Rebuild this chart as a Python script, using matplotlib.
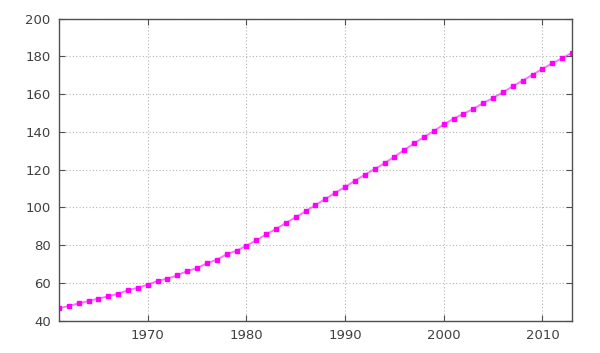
import numpy as np
import matplotlib
matplotlib.use("Agg")
import matplotlib.pyplot as plt

years = np.arange(1961, 2014)
population = [46.6, 47.8, 49.2, 50.4, 51.7, 52.9, 54.3, 56.1, 57.5, 59.1,
              61.1, 62.3, 64.1, 66.3, 67.9, 70.4, 72.3, 75.2, 77.1, 79.7,
              82.6, 85.7, 88.6, 91.8, 94.8, 98.0, 101.3, 104.5, 107.8, 110.8,
              114.2, 117.3, 120.4, 123.4, 126.9, 130.4, 134.0, 137.3, 140.5, 144.0,
              147.0, 149.6, 152.2, 155.3, 158.0, 161.0, 164.2, 167.2, 170.3, 173.4,
              176.4, 179.0, 182.0]

xticks = [1970, 1980, 1990, 2000, 2010]
yticks = list(range(40, 201, 20))

fig = plt.figure(figsize=(6.0, 3.53), dpi=100)
ax = fig.add_axes([0.0983, 0.0915, 0.855, 0.8555])

ax.plot(years, population, color='#ff00ff', lw=1.4, alpha=0.55)
ax.plot(years, population, 's', color='#ff00ff', ms=3.0, mec='#ff00ff')

ax.set_xlim(1961, 2013)
ax.set_ylim(40, 200)
ax.set_xticks(xticks)
ax.set_yticks(yticks)
ax.grid(True, color='#b4b4b4', linestyle=(0, (1, 2)), lw=0.8)

for s in ax.spines.values():
    s.set_color('#505050')
    s.set_linewidth(1)
ax.tick_params(direction='in', top=True, right=True, length=4, width=0.8,
               color='#505050', labelcolor='#404040', labelsize=9.5, pad=6)

fig.savefig('out.png', dpi=100)
